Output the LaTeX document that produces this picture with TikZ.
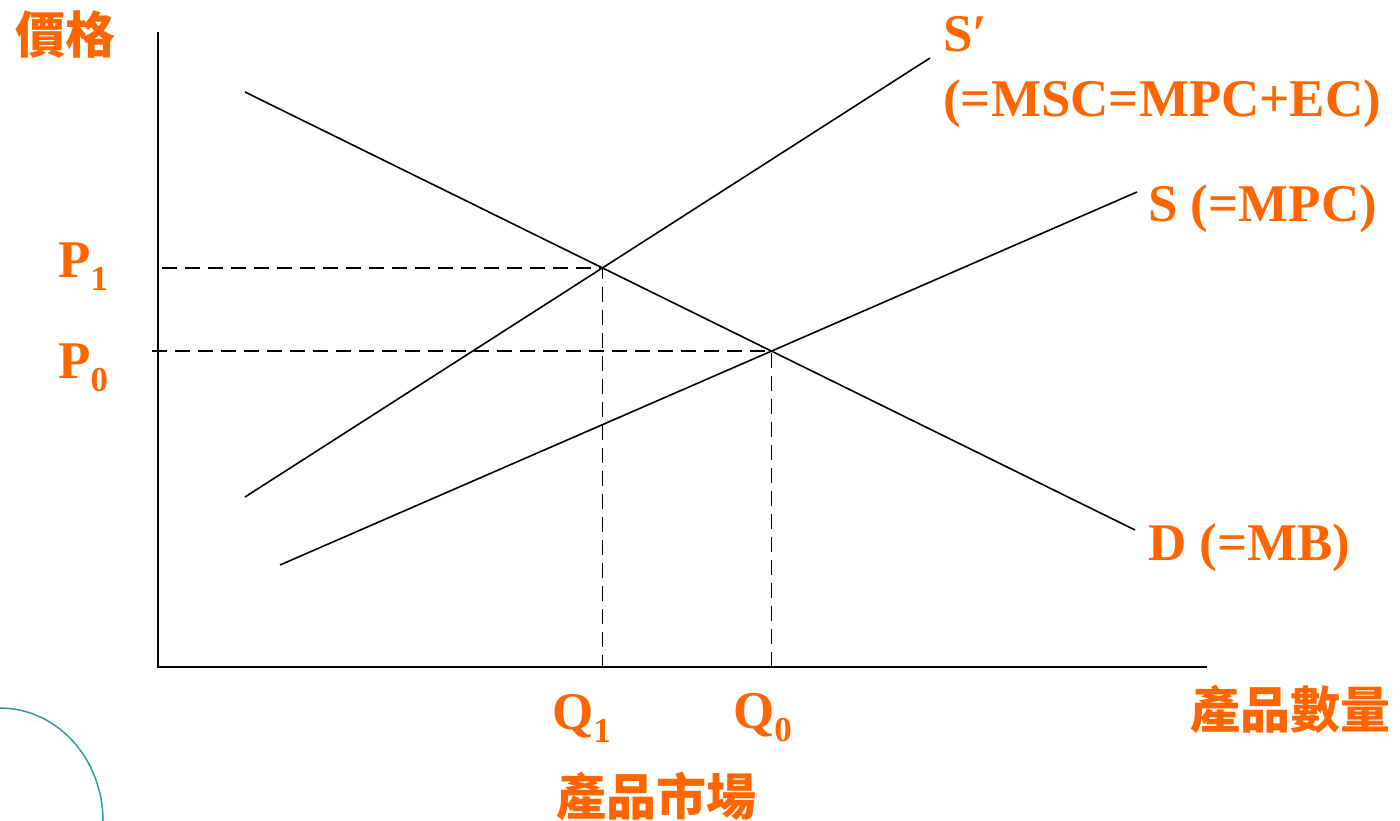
\documentclass[tikz,border=0pt]{standalone}
\usepackage{fontspec}
\setmainfont{Liberation Serif}
\newfontfamily\cjk{Noto Sans CJK TC}
\definecolor{labelorange}{HTML}{FF6600}
\definecolor{arcteal}{HTML}{339999}
\newcommand{\lowidx}[1]{\raisebox{-13pt}{\fontsize{35}{35}\selectfont #1}}

\begin{document}
\begin{tikzpicture}[x=1pt, y=-1pt,
    curve/.style={line width=1.6pt},
    guide/.style={line width=1.8pt, dash pattern=on 15pt off 8pt},
    axisline/.style={line width=2pt},
    lbl/.style={text=labelorange, inner sep=0pt, anchor=base west, font=\fontsize{53}{58}\selectfont\bfseries},
    cjklbl/.style={text=labelorange, inner sep=0pt, font=\fontsize{50}{54}\selectfont\cjk\bfseries}]
    \useasboundingbox (0,0) rectangle (1400,821);
    % axes
    \coordinate (O) at (158,667);
    \coordinate (ytop) at (158,32);
    \coordinate (xend) at (1207,667);
    \draw[axisline] (ytop) -- (O) -- (xend);
    % curves
    \coordinate (d1) at (245,92);
    \coordinate (d2) at (1135,530);
    \coordinate (sp1) at (245,497);
    \coordinate (sp2) at (930,58);
    \coordinate (s1) at (280,565);
    \coordinate (s2) at (1137,192);
    \draw[curve] (d1) -- (d2);
    \draw[curve] (sp1) -- (sp2);
    \draw[curve] (s1) -- (s2);
    \coordinate (E1) at (intersection of d1--d2 and sp1--sp2);
    \coordinate (E0) at (intersection of d1--d2 and s1--s2);
    \draw[guide] ([xshift=4pt]E1 -| O) -- (E1) -- (E1 |- O);
    \draw[guide] ([xshift=-6pt]E0 -| O) -- (E0) -- (E0 |- O);
    % labels
    \node[cjklbl] (price) at (66,35) {價格};
    \node[lbl] (spname) at (943,52) {S′};
    \node[lbl] (spnote) at (943,117) {(=MSC=MPC+EC)};
    \node[lbl] (sname) at (1148,222) {S (=MPC)};
    \node[lbl] (dname) at (1148,560) {D (=MB)};
    \node[lbl] (p1) at (58,277) {P\lowidx{1}};
    \node[lbl] (p0) at (58,378) {P\lowidx{0}};
    \node[lbl] (q1) at (552,729) {Q\lowidx{1}};
    \node[lbl] (q0) at (733,728) {Q\lowidx{0}};
    \node[cjklbl] (qty) at (1290,709) {產品數量};
    \node[cjklbl] (market) at (656,796) {產品市場};
    % corner arc
    \draw[arcteal, line width=1.5pt] (0,708) arc[start angle=270, end angle=360, x radius=103, y radius=113];
\end{tikzpicture}
\end{document}
